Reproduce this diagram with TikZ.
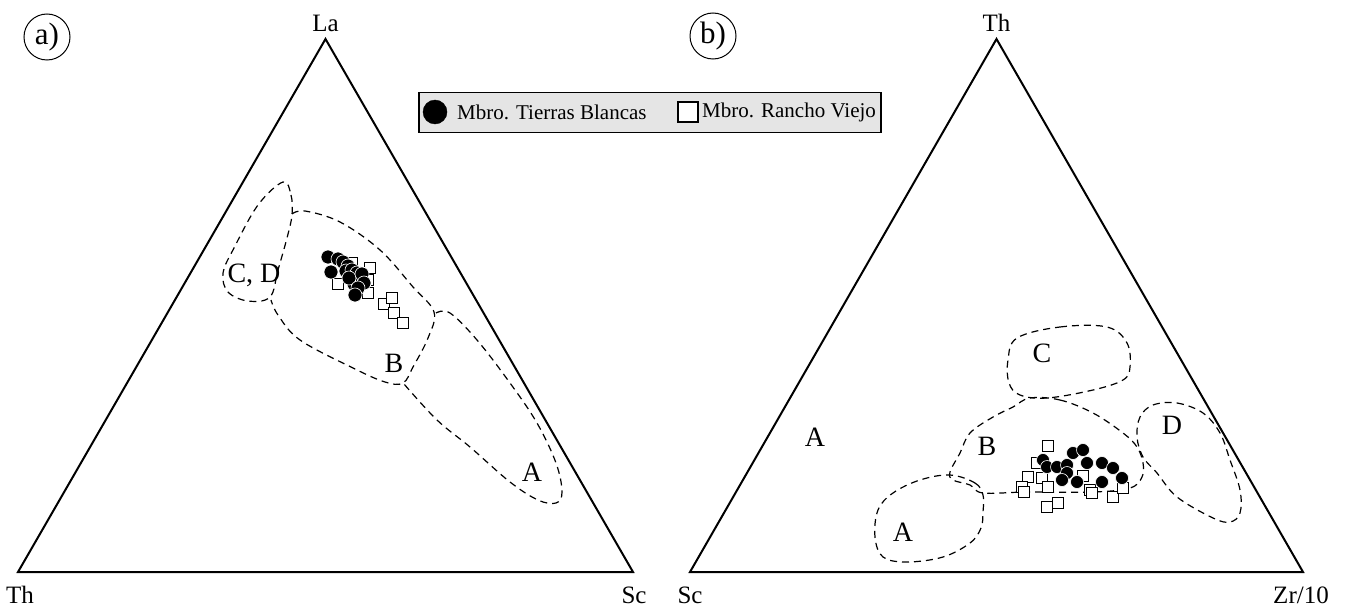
\documentclass[tikz,border=0pt]{standalone}
\usepackage{fontspec}
\setmainfont{Liberation Serif}
\tikzset{
  frame/.style={line width=2pt, line join=miter},
  field/.style={line width=1.2pt, dash pattern=on 7pt off 5pt},
  apexlabel/.style={font=\fontsize{25}{30}\selectfont, anchor=base, inner sep=0pt},
  fieldlabel/.style={font=\fontsize{28}{34}\selectfont, inner sep=0pt},
  keytext/.style={font=\fontsize{21}{25}\selectfont, anchor=west, inner sep=0pt},
  panel/.style={circle, draw, line width=1pt, inner sep=1pt, minimum size=46pt, font=\fontsize{31}{34}\selectfont},
  tbdot/.style={fill=black, draw=white, line width=0.6pt},
  rvbox/.style={fill=white, draw=black, line width=1.1pt}
}
\begin{document}
\begin{tikzpicture}[x=1pt, y=-1pt]
  \useasboundingbox (0,0) rectangle (1346,607);
  % a) La-Th-Sc
  \coordinate (La) at (325.5, 39);
  \coordinate (ThA) at (18, 572);
  \coordinate (ScA) at (633, 572);
  \draw[frame] (La) -- (ThA) -- (ScA) -- cycle;
  \node[apexlabel] (laLabel) at (325.5, 32) {La};
  \node[apexlabel] (thLabelA) at (20, 603) {Th};
  \node[apexlabel] (scLabelA) at (634, 603) {Sc};
  \node[panel] (panelA) at (47, 37) {a)};
  \draw[field] plot[smooth cycle, tension=0.6] coordinates {(283,182) (291,195) (292,215) (287,238) (278,270) (270,297) (248,301) (228,292) (223,273) (234,248) (258,205)};
  \draw[field] plot[smooth, tension=0.6] coordinates {(292,214) (305,211) (340,222) (380,250) (413,287) (434,312) (428,338) (413,367) (403,383) (385,382) (353,368) (300,340) (278,315) (271,300)};
  \draw[field] plot[smooth, tension=0.6] coordinates {(436,313) (450,313) (477,340) (510,383) (537,423) (556,463) (562,492) (556,503) (538,500) (510,482) (470,447) (437,420) (404,384)};
  \node[fieldlabel] (cdA) at (254, 275) {C, D};
  \node[fieldlabel] (bA) at (394, 363) {B};
  \node[fieldlabel] (aA) at (532, 472) {A};
  \foreach \x/\y in {352/263, 338/284, 370/268, 368/280, 368/293, 384/304, 392/298, 394/313, 403/323}
    \draw[rvbox] (\x,\y) ++(-5.5pt,-5.5pt) rectangle ++(11pt,11pt);
  \foreach \x/\y in {328/257, 338/259, 343/262, 348/266, 331/272, 346/271, 352/270, 357/273, 360/281, 354/284, 349/278, 362/274, 364/283, 358/288, 355/295}
    \draw[tbdot] (\x,\y) circle (7pt);
  % b) Th-Sc-Zr/10
  \coordinate (Th) at (996.5, 39);
  \coordinate (ScB) at (690, 572);
  \coordinate (Zr) at (1303, 572);
  \draw[frame] (Th) -- (ScB) -- (Zr) -- cycle;
  \node[apexlabel] (thLabelB) at (996.5, 32) {Th};
  \node[apexlabel] (scLabelB) at (690, 603) {Sc};
  \node[apexlabel] (zrLabel) at (1301, 603) {Zr/10};
  \node[panel] (panelB) at (713, 36) {b)};
  \draw[field] plot[smooth cycle, tension=0.6] coordinates {(1017,338) (1060,327) (1107,327) (1127,343) (1130,367) (1123,380) (1093,390) (1047,398) (1020,395) (1009,383) (1008,360)};
  \draw[field] plot[smooth cycle, tension=0.6] coordinates {(1030,398) (1060,400) (1093,413) (1123,433) (1137,447) (1143,463) (1142,477) (1130,488) (1093,492) (1027,492) (983,493) (970,485) (953,480) (950,472) (960,453) (970,433) (993,417) (1013,407)};
  \draw[field] plot[smooth cycle, tension=0.6] coordinates {(950,475) (975,483) (983,495) (983,512) (981,528) (970,543) (943,557) (907,562) (883,557) (875,537) (878,510) (893,493) (920,480)};
  \draw[field] plot[smooth cycle, tension=0.6] coordinates {(1153,405) (1177,403) (1203,413) (1220,433) (1230,460) (1240,490) (1240,513) (1230,522) (1213,518) (1177,497) (1157,473) (1143,457) (1137,437) (1140,417)};
  \node[fieldlabel] (aLeft) at (815, 437) {A};
  \node[fieldlabel] (cB) at (1042, 353) {C};
  \node[fieldlabel] (bB) at (987, 446) {B};
  \node[fieldlabel] (dB) at (1172, 425) {D};
  \node[fieldlabel] (aB) at (903, 532) {A};
  \foreach \x/\y in {1048/446, 1037/463, 1028/477, 1022/487, 1024/492, 1042/478, 1048/487, 1047/507, 1058/503, 1090/490, 1092/493, 1113/497, 1123/488, 1083/476}
    \draw[rvbox] (\x,\y) ++(-5.5pt,-5.5pt) rectangle ++(11pt,11pt);
  \foreach \x/\y in {1043/460, 1047/467, 1057/467, 1067/465, 1073/453, 1083/450, 1087/463, 1067/473, 1062/480, 1077/482, 1102/463, 1113/468, 1122/478, 1102/482}
    \draw[tbdot] (\x,\y) circle (6.5pt);
  % key
  \node[draw, line width=1.5pt, fill=black!10, minimum width=462pt, minimum height=40pt, inner sep=0pt, anchor=north west] (key) at (418, 92) {};
  \draw[fill=black] (435, 112) circle (12pt);
  \node[keytext] (keyTB) at (457, 112) {Mbro. Tierras Blancas};
  \draw[rvbox, line width=1.2pt] (678, 102) rectangle (698, 122);
  \node[keytext] (keyRV) at (702, 112) {Mbro. Rancho Viejo};
\end{tikzpicture}
\end{document}
